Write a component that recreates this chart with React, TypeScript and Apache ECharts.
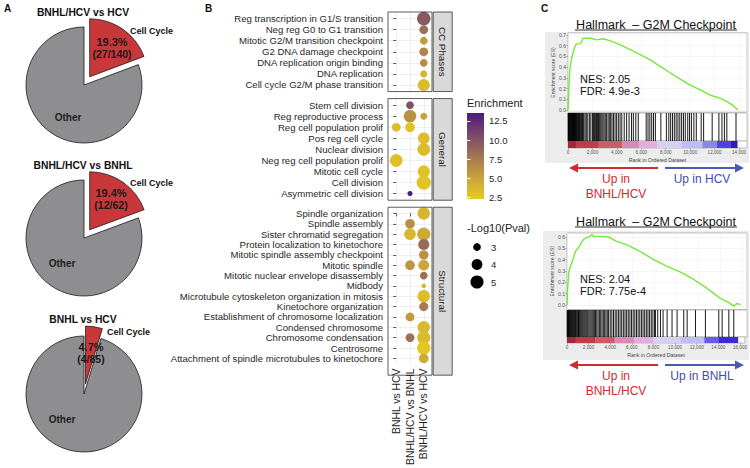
import React, { useEffect, useRef } from "react";
import * as echarts from "echarts";

const FONT = "'Liberation Sans', Arial, sans-serif";

// ---------- Panel A data ----------
const pieTitles = ["BNHL/HCV vs HCV", "BNHL/HCV vs BNHL", "BNHL vs HCV"];
const pieCellCycleCounts = [27, 12, 4];
const pieTotalCounts = [140, 62, 85];
const pieSliceNames = ["Cell Cycle", "Other"];

// ---------- Panel B data ----------
const comparisons = ["BNHL vs HCV", "BNHL/HCV vs BNHL", "BNHL/HCV vs HCV"];
const facetNames = ["CC Phases", "General", "Structural"];
const ccPhaseTerms = [
  "Reg transcription in G1/S transition",
  "Neg reg G0 to G1 transition",
  "Mitotic G2/M transition checkpoint",
  "G2 DNA damage checkpoint",
  "DNA replication origin binding",
  "DNA replication",
  "Cell cycle G2/M phase transition",
];
const generalTerms = [
  "Stem cell division",
  "Reg reproductive process",
  "Reg cell population prolif",
  "Pos reg cell cycle",
  "Nuclear division",
  "Neg reg cell population prolif",
  "Mitotic cell cycle",
  "Cell division",
  "Asymmetric cell division",
];
const structuralTerms = [
  "Spindle organization",
  "Spindle assembly",
  "Sister chromatid segregation",
  "Protein localization to kinetochore",
  "Mitotic spindle assembly checkpoint",
  "Mitotic spindle",
  "Mitotic nuclear envelope disassembly",
  "Midbody",
  "Microtubule cytoskeleton organization in mitosis",
  "Kinetochore organization",
  "Establishment of chromosome localization",
  "Condensed chromosome",
  "Chromosome condensation",
  "Centrosome",
  "Attachment of spindle microtubules to kinetochore",
];
// [comparison index, term index, enrichment, -log10(p)]
const ccPhaseDots = [
  [2, 0, 9.6, 5.2],
  [2, 1, 8.4, 3.3],
  [2, 2, 5.6, 3.0],
  [2, 3, 6.8, 3.3],
  [2, 4, 6.4, 3.0],
  [2, 5, 3.8, 2.8],
  [2, 6, 3.4, 4.5],
];
const generalDots = [
  [1, 0, 10.2, 3.0],
  [1, 1, 6.2, 4.7],
  [2, 1, 5.0, 2.8],
  [0, 2, 3.2, 3.3],
  [1, 2, 2.8, 3.6],
  [2, 3, 3.2, 4.4],
  [2, 4, 3.3, 4.8],
  [0, 5, 3.0, 4.8],
  [2, 6, 2.8, 4.6],
  [2, 7, 2.7, 5.6],
  [1, 8, 13.5, 2.4],
];
const structuralDots = [
  [2, 0, 3.8, 4.7],
  [1, 1, 6.2, 3.6],
  [1, 2, 3.6, 4.3],
  [2, 2, 4.6, 5.0],
  [2, 3, 8.6, 4.1],
  [2, 4, 6.2, 3.5],
  [1, 5, 6.0, 3.6],
  [2, 5, 4.8, 4.0],
  [2, 6, 8.2, 3.0],
  [2, 7, 3.6, 2.3],
  [2, 8, 3.2, 4.7],
  [2, 9, 7.6, 3.4],
  [1, 10, 5.6, 3.3],
  [2, 11, 3.5, 4.7],
  [1, 12, 8.2, 3.3],
  [2, 12, 3.4, 5.0],
  [2, 13, 2.6, 5.1],
  [2, 14, 4.6, 3.6],
];
const enrichmentTicks = [2.5, 5, 7.5, 10, 12.5];
const enrichmentRange = [2.25, 13.55];
const pvalLegendValues = [3, 4, 5];
const enrichmentColors = ["#e8cb22", "#c9a23a", "#a27652", "#7a4868", "#4b1a7c"];

// ---------- Panel C data ----------
const gseaTitle = "Hallmark  \u2013 G2M Checkpoint";
const gseaStats = [
  ["NES: 2.05", "FDR: 4.9e-3"],
  ["NES: 2.04", "FDR: 7.75e-4"],
];
const gseaUpLeft = ["BNHL/HCV", "BNHL/HCV"];
const gseaUpRight = ["Up in HCV", "Up in BNHL"];
const esTopRanks = [0, 55, 140, 270, 410, 550, 680, 960, 1090, 1230, 1910, 2320, 2870, 3420, 4230, 5050, 5870, 6690, 7510, 8330, 9150, 9970, 10790, 11610, 12430, 12980, 13520, 13900];
const esTopValues = [0, 0.16, 0.36, 0.47, 0.53, 0.59, 0.615, 0.62, 0.63, 0.67, 0.67, 0.655, 0.665, 0.648, 0.61, 0.565, 0.52, 0.47, 0.41, 0.35, 0.29, 0.235, 0.19, 0.14, 0.11, 0.08, 0.04, 0.0];
const esBottomRanks = [0, 60, 150, 300, 460, 610, 760, 910, 1070, 1370, 1520, 1980, 2130, 2290, 2440, 2900, 3810, 4420, 5490, 6710, 7930, 9150, 10370, 11590, 12800, 14020, 14790, 15240, 15550, 15850];
const esBottomValues = [0, 0.15, 0.28, 0.34, 0.38, 0.42, 0.47, 0.49, 0.51, 0.56, 0.58, 0.6, 0.61, 0.62, 0.605, 0.605, 0.6, 0.565, 0.53, 0.47, 0.4, 0.34, 0.29, 0.225, 0.146, 0.058, 0.02, -0.01, 0.015, 0.0];
const hitsTop = [
  15, 45, 80, 110, 150, 185, 220, 260, 300, 340, 370, 410, 450, 490, 530, 570, 610, 650, 700, 750, 800, 850, 900, 950, 1000, 1060, 1120, 1180, 1240, 1300,
  1400, 1500, 1620, 1750, 1870, 2000, 2080, 2160, 2240, 2330, 2420, 2500, 2590, 2680, 2770, 2860, 2950, 3050, 3160,
  3280, 3380, 3490, 3600, 3720, 3850, 3980, 4120, 4260, 4400, 4600, 4800, 5000, 5200, 5350, 5550, 5750,
  6400, 6550, 6700, 6850, 7000, 7150, 7600, 8050, 8250, 8400, 8550, 8700, 8850, 9000, 9150, 9300, 9450, 9600, 9800, 9950, 10100, 10300, 10500,
  10900, 11100, 11800, 12350, 12600, 12800, 13000, 13750,
];
const hitsBottom = [
  20, 60, 100, 140, 190, 240, 290, 340, 400, 460, 520, 580, 640, 700, 770, 840, 910, 980, 1050, 1130, 1210, 1290, 1370, 1450, 1540, 1630, 1720, 1810, 1900,
  2000, 2100, 2200, 2300, 2400, 2500, 2600, 2720, 2840, 2960, 3080, 3200, 3320, 3440, 3560, 3680, 3800, 3950, 4100, 4250, 4400, 4550, 4700, 4850,
  5000, 5150, 5300, 5450, 5600, 5750, 5900, 6050, 6200, 6350, 6500, 6650, 6800, 6950, 7100, 7250, 7400, 7550, 7700, 7850, 8000,
  8080, 8290, 8540, 8780, 9150, 9600, 10060, 10670, 10980, 11740, 12650, 13870, 14180, 14790, 15240,
];
const bandTopEdges = [0, 700, 2500, 4400, 5800, 7300, 9300, 11000, 12200, 13300, 13850];
const bandTopColors = ["#a3283a", "#bf3c48", "#cd5a66", "#d98ab4", "#e2acdc", "#d6d0f4", "#bdbdf4", "#8a86ec", "#5140e2", "#2d1cb8"];
const bandBottomEdges = [0, 800, 2600, 4400, 6200, 8000, 10500, 12700, 14000, 15800];
const bandBottomColors = ["#a3283a", "#bf3c48", "#cd5a66", "#d98ab4", "#e2acdc", "#d6d0f4", "#bdbdf4", "#6a5ae8", "#3c2ad8"];

function txt(x: number, y: number, text: string, size: number, o: any = {}) {
  return {
    type: "text",
    x,
    y,
    rotation: o.rotation || 0,
    silent: true,
    z: 50,
    style: {
      text,
      fontSize: size,
      fontFamily: FONT,
      fontWeight: o.bold ? "bold" : "normal",
      fill: o.color || "#000",
      align: o.align || "center",
      verticalAlign: "middle",
    },
  };
}

function arrow(x1: number, x2: number, y: number, color: string) {
  const dir = x2 > x1 ? 1 : -1;
  return [
    { type: "line", silent: true, z: 40, shape: { x1, y1: y, x2: x2 - dir * 6, y2: y }, style: { stroke: color, lineWidth: 2 } },
    { type: "polygon", silent: true, z: 40, shape: { points: [[x2, y], [x2 - dir * 9, y - 4.5], [x2 - dir * 9, y + 4.5]] }, style: { fill: color } },
  ];
}

function buildOption() {
  const grids: any[] = [];
  const xAxes: any[] = [];
  const yAxes: any[] = [];
  const series: any[] = [];
  const graphics: any[] = [];

  // ---------------- Panel B: dot plot facets ----------------
  const U = 11.05;
  const UX = 13.75;
  const PL = 388;
  const PW = (comparisons.length - 1 + 1.2) * UX;
  const facetTerms = [ccPhaseTerms, generalTerms, structuralTerms];
  const facetDots = [ccPhaseDots, generalDots, structuralDots];
  const sizeFn = (p: number) => Math.sqrt(Math.max(56 * p - 108, 6));
  let top = 12;
  const colIdx = comparisons.map((_, i) => i);
  facetTerms.forEach((terms, f) => {
    const h = (terms.length - 1 + 1.2) * U;
    const gi = grids.length;
    const isLast = f === facetTerms.length - 1;
    const rowIdx = terms.map((_, i) => i);
    grids.push({ left: PL, top, width: PW, height: h, show: true, backgroundColor: "#fff", borderWidth: 0 });
    const xi = xAxes.length;
    xAxes.push({
      type: "value",
      gridIndex: gi,
      min: -0.6,
      max: comparisons.length - 0.4,
      axisLine: { show: false },
      axisTick: { show: isLast, customValues: colIdx, length: 3, lineStyle: { color: "#333", width: 0.8 } },
      axisLabel: {
        show: isLast,
        customValues: colIdx,
        rotate: 90,
        margin: 4,
        fontSize: 10.4,
        color: "#1f1f1f",
        fontFamily: FONT,
        formatter: (v: number) => comparisons[Math.round(v)],
      },
      splitLine: { show: true, lineStyle: { color: "#ebebeb", width: 0.8 } },
    });
    const yi = yAxes.length;
    yAxes.push({
      type: "value",
      gridIndex: gi,
      inverse: true,
      min: -0.6,
      max: terms.length - 0.4,
      axisLine: { show: false },
      axisTick: { show: true, customValues: rowIdx, length: 3, lineStyle: { color: "#333", width: 0.8 } },
      axisLabel: {
        customValues: rowIdx,
        margin: 5,
        fontSize: 9.6,
        color: "#1f1f1f",
        fontFamily: FONT,
        formatter: (v: number) => terms[Math.round(v)],
      },
      splitLine: { show: true, lineStyle: { color: "#ebebeb", width: 0.8 } },
    });
    series.push({
      type: "scatter",
      xAxisIndex: xi,
      yAxisIndex: yi,
      data: facetDots[f],
      symbolSize: (v: number[]) => sizeFn(v[3]),
      itemStyle: { opacity: 1 },
      silent: true,
      z: 3,
    });
    graphics.push({ type: "rect", silent: true, z: 30, shape: { x: PL, y: top, width: PW, height: h }, style: { fill: "none", stroke: "#333", lineWidth: 0.8 } });
    graphics.push({ type: "rect", silent: true, z: 30, shape: { x: PL + PW + 1.2, y: top, width: 19, height: h }, style: { fill: "#d9d9d9", stroke: "#333", lineWidth: 0.8 } });
    graphics.push(txt(PL + PW + 1.2 + 9.5, top + h / 2, facetNames[f], 9.8, { rotation: -Math.PI / 2, color: "#1a1a1a" }));
    top += h + 7;
  });

  // ---------------- Enrichment colour bar ----------------
  const cbTop = 113, cbH = 86, cbLeft = 467, cbW = 17;
  const cbGrid = grids.length;
  grids.push({ left: cbLeft, top: cbTop, width: cbW, height: cbH, show: false });
  xAxes.push({ type: "value", gridIndex: cbGrid, show: false, min: 0, max: 1 });
  yAxes.push({
    type: "value",
    gridIndex: cbGrid,
    position: "right",
    min: enrichmentRange[0],
    max: enrichmentRange[1],
    z: 60,
    axisLine: { show: false },
    splitLine: { show: false },
    axisTick: { show: true, inside: true, customValues: enrichmentTicks, length: 3.4, lineStyle: { color: "#fff", width: 1 } },
    axisLabel: { customValues: enrichmentTicks, margin: 5, fontSize: 9.5, color: "#262626", fontFamily: FONT, formatter: (v: number) => v.toFixed(1) },
  });
  yAxes.push({
    type: "value",
    gridIndex: cbGrid,
    position: "left",
    min: enrichmentRange[0],
    max: enrichmentRange[1],
    z: 60,
    axisLine: { show: false },
    splitLine: { show: false },
    axisLabel: { show: false },
    axisTick: { show: true, inside: true, customValues: enrichmentTicks, length: 3.4, lineStyle: { color: "#fff", width: 1 } },
  });
  graphics.push({
    type: "rect",
    silent: true,
    z: 20,
    shape: { x: cbLeft, y: cbTop, width: cbW, height: cbH },
    style: {
      fill: {
        type: "linear",
        x: 0,
        y: 1,
        x2: 0,
        y2: 0,
        colorStops: enrichmentColors.map((c, i) => ({ offset: i / (enrichmentColors.length - 1), color: c })),
      },
    },
  });
  graphics.push(txt(cbLeft, 103, "Enrichment", 11, { align: "left", color: "#1a1a1a" }));
  graphics.push(txt(cbLeft, 228, "-Log10(Pval)", 11, { align: "left", color: "#1a1a1a" }));
  pvalLegendValues.forEach((p, i) => {
    const y = 247 + i * 17.5;
    graphics.push({ type: "circle", silent: true, z: 20, shape: { cx: 477, cy: y, r: sizeFn(p) / 2 }, style: { fill: "#000" } });
    graphics.push(txt(491, y, String(p), 9.5, { align: "left", color: "#262626" }));
  });

  // ---------------- Panel C: GSEA ----------------
  const gsea = [
    { left: 568, width: 179, esTop: 32.9, esH: 79.2, esMin: -0.02, esMax: 0.72, esTicks: [0, 0.1, 0.2, 0.3, 0.4, 0.5, 0.6, 0.7], hitTop: 113, hitH: 28, bandTop: 141, bandH: 7, xMax: 14650, ranks: esTopRanks, es: esTopValues, hits: hitsTop, edges: bandTopEdges, colors: bandTopColors, box: [545, 32, 204, 131], titleY: 25, statY: 79, arrowY: 168 },
    { left: 567, width: 180, esTop: 233, esH: 76.5, esMin: -0.04, esMax: 0.635, esTicks: [0, 0.1, 0.2, 0.3, 0.4, 0.5, 0.6], hitTop: 310, hitH: 27, bandTop: 337, bandH: 6, xMax: 16450, ranks: esBottomRanks, es: esBottomValues, hits: hitsBottom, edges: bandBottomEdges, colors: bandBottomColors, box: [543, 231, 206, 129], titleY: 222, statY: 279, arrowY: 365 },
  ];
  gsea.forEach((g, k) => {
    graphics.push({ type: "rect", silent: true, z: -10, shape: { x: g.box[0], y: g.box[1], width: g.box[2], height: g.box[3] }, style: { fill: "#ececec" } });
    let gi = grids.length;
    grids.push({ left: g.left, top: g.esTop, width: g.width, height: g.esH, show: true, backgroundColor: "#fff", borderColor: "#9a9a9a", borderWidth: 0.6 });
    let xi = xAxes.length;
    xAxes.push({ type: "value", gridIndex: gi, min: 0, max: g.xMax, interval: 2000, axisLine: { show: false }, axisTick: { show: false }, axisLabel: { show: false }, splitLine: { show: true, lineStyle: { color: "#eeeeee", width: 0.5 } } });
    let yi = yAxes.length;
    yAxes.push({
      type: "value",
      gridIndex: gi,
      min: g.esMin,
      max: g.esMax,
      axisLine: { show: false },
      axisTick: { show: true, customValues: g.esTicks, length: 2, lineStyle: { color: "#888", width: 0.5 } },
      axisLabel: { customValues: g.esTicks, fontSize: 5, color: "#555", margin: 2, fontFamily: FONT, formatter: (v: number) => v.toFixed(1) },
      splitLine: { show: true, lineStyle: { color: "#eeeeee", width: 0.5 } },
      name: "Enrichment score (ES)",
      nameLocation: "middle",
      nameGap: 12,
      nameTextStyle: { fontSize: 5, color: "#444", fontFamily: FONT },
    });
    series.push({
      type: "line",
      xAxisIndex: xi,
      yAxisIndex: yi,
      data: g.ranks.map((r, i) => [r, g.es[i]]),
      showSymbol: false,
      symbol: "none",
      clip: false,
      silent: true,
      lineStyle: { color: "#76e83a", width: 1.4 },
      z: 5,
    });
    gi = grids.length;
    grids.push({ left: g.left, top: g.hitTop, width: g.width, height: g.hitH, show: true, backgroundColor: "#fff", borderColor: "#9a9a9a", borderWidth: 0.6 });
    xi = xAxes.length;
    xAxes.push({ type: "value", gridIndex: gi, min: 0, max: g.xMax, show: false });
    yi = yAxes.length;
    yAxes.push({ type: "value", gridIndex: gi, min: 0, max: 1, show: false });
    series.push({
      type: "custom",
      xAxisIndex: xi,
      yAxisIndex: yi,
      silent: true,
      data: g.hits.map((h) => [h, 0.5]),
      renderItem: (_p: any, api: any) => {
        const a = api.coord([api.value(0), 0]);
        const b = api.coord([api.value(0), 1]);
        return { type: "line", shape: { x1: a[0], y1: a[1], x2: b[0], y2: b[1] }, style: { stroke: "#000", lineWidth: 1, opacity: 0.9 } };
      },
    });
    gi = grids.length;
    grids.push({ left: g.left, top: g.bandTop, width: g.width, height: g.bandH, show: true, backgroundColor: "#fff", borderColor: "#9a9a9a", borderWidth: 0.6 });
    xi = xAxes.length;
    xAxes.push({
      type: "value",
      gridIndex: gi,
      min: 0,
      max: g.xMax,
      interval: 2000,
      axisLine: { show: false },
      axisTick: { show: true, length: 2, lineStyle: { color: "#888", width: 0.5 } },
      axisLabel: { fontSize: 4.6, color: "#555", margin: 2, showMaxLabel: false, fontFamily: FONT, formatter: (v: number) => v.toLocaleString("en-US") },
      splitLine: { show: false },
      name: "Rank in Ordered Dataset",
      nameLocation: "middle",
      nameGap: 9,
      nameTextStyle: { fontSize: 5.2, color: "#444", fontFamily: FONT },
    });
    yi = yAxes.length;
    yAxes.push({ type: "value", gridIndex: gi, min: 0, max: 1, show: false });
    const colors = g.colors;
    series.push({
      type: "custom",
      xAxisIndex: xi,
      yAxisIndex: yi,
      silent: true,
      data: colors.map((_, i) => [g.edges[i], g.edges[i + 1]]),
      renderItem: (p: any, api: any) => {
        const s = api.coord([api.value(0), 0]);
        const e = api.coord([api.value(1), 1]);
        return { type: "rect", shape: { x: s[0], y: e[1], width: e[0] - s[0] + 0.3, height: s[1] - e[1] }, style: { fill: colors[p.dataIndex] } };
      },
    });
    graphics.push(txt(656, g.titleY, gseaTitle, 12.5, { color: "#111" }));
    graphics.push({ type: "line", silent: true, z: 40, shape: { x1: 575, y1: g.titleY + 5, x2: 737, y2: g.titleY + 5 }, style: { stroke: "#111", lineWidth: 0.9 } });
    graphics.push(txt(580, g.statY, gseaStats[k][0], 11, { align: "left", color: "#111" }));
    graphics.push(txt(580, g.statY + 11.5, gseaStats[k][1], 11, { align: "left", color: "#111" }));
    graphics.push(...arrow(658, 569, g.arrowY, "#d12a2f"));
    graphics.push(...arrow(665, 744, g.arrowY, "#4a58b6"));
    graphics.push(txt(616, g.arrowY + 11, "Up in", 12, { color: "#d12a2f" }));
    graphics.push(txt(616, g.arrowY + 26, gseaUpLeft[k], 12, { color: "#d12a2f" }));
    graphics.push(txt(702, g.arrowY + 11, gseaUpRight[k], 12, { color: "#3f4da8" }));
  });

  // ---------------- Panel A: pies ----------------
  const pieCenters = [[84, 85], [84, 238], [84, 394]];
  const pieTitleY = [12, 165, 319];
  const pctPos = [[112, 42], [111, 193], [91, 347]];
  const ccLabelPos = [[130, 31], [130, 183], [107, 332]];
  const otherPos = [[68, 117], [62, 263], [62, 419]];
  pieTitles.forEach((t, i) => {
    const cc = pieCellCycleCounts[i];
    const tot = pieTotalCounts[i];
    series.push({
      type: "pie",
      center: pieCenters[i],
      radius: 58,
      startAngle: 90,
      clockwise: true,
      silent: true,
      selectedMode: "single",
      selectedOffset: 10,
      label: { show: false },
      labelLine: { show: false },
      emphasis: { disabled: true },
      itemStyle: { borderColor: "#1a1a1a", borderWidth: 0.8 },
      data: [
        { name: pieSliceNames[0], value: cc, selected: true, itemStyle: { color: "#c8383b" } },
        { name: pieSliceNames[1], value: tot - cc, itemStyle: { color: "#8e8e91" } },
      ],
    });
    graphics.push(txt(83, pieTitleY[i], t, 10.3, { bold: true, color: "#111" }));
    const pct = ((cc / tot) * 100).toFixed(1) + "%";
    graphics.push(txt(pctPos[i][0], pctPos[i][1], pct, 11, { bold: true, color: "#1a1a1a" }));
    graphics.push(txt(pctPos[i][0], pctPos[i][1] + 12, `(${cc}/${tot})`, 10.5, { bold: true, color: "#1a1a1a" }));
    graphics.push(txt(ccLabelPos[i][0], ccLabelPos[i][1], pieSliceNames[0], 9, { bold: true, align: "left", color: "#111" }));
    graphics.push(txt(otherPos[i][0], otherPos[i][1], pieSliceNames[1], 10, { bold: true, color: "#222" }));
  });

  graphics.push(txt(4, 8, "A", 10, { bold: true, align: "left", color: "#111" }));
  graphics.push(txt(205, 8, "B", 10, { bold: true, align: "left", color: "#111" }));
  graphics.push(txt(541, 8, "C", 10, { bold: true, align: "left", color: "#111" }));

  return {
    animation: false,
    backgroundColor: "#fff",
    textStyle: { fontFamily: FONT },
    grid: grids,
    xAxis: xAxes,
    yAxis: yAxes,
    visualMap: [
      {
        type: "continuous",
        show: false,
        min: enrichmentRange[0],
        max: enrichmentRange[1],
        dimension: 2,
        seriesIndex: [0, 1, 2],
        inRange: { color: enrichmentColors },
      },
    ],
    series,
    graphic: graphics,
  };
}

export default function App() {
  const ref = useRef<HTMLDivElement>(null);
  useEffect(() => {
    const el = ref.current;
    if (!el) return;
    const chart = echarts.init(el, null, { renderer: "svg", width: 750, height: 468 });
    chart.setOption(buildOption() as any);
    return () => chart.dispose();
  }, []);
  return (
    <div
      ref={ref}
      style={{ position: "fixed", left: 0, top: 0, width: 750, height: 468, background: "#fff" }}
    />
  );
}
